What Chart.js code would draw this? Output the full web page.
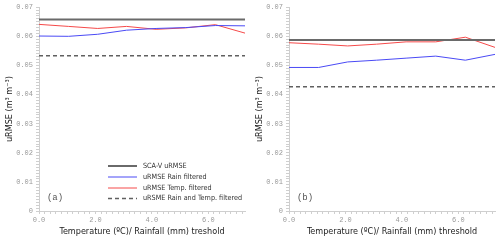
<!DOCTYPE html>
<html>
<head>
<meta charset="utf-8">
<script src="https://cdn.jsdelivr.net/npm/chart.js@4"></script>
<style>
  body { margin: 0; background: #fff; }
  #wrap { display: flex; width: 500px; height: 241px; }
  canvas { display: block; }
</style>
</head>
<body>
<div id="wrap">
  <canvas id="chartA" width="250" height="241"></canvas>
  <canvas id="chartB" width="250" height="241"></canvas>
</div>
<script>
// thresholds (x)
const thresholds = [0, 1.05, 2.08, 3.1, 4.15, 5.2, 6.25, 7.3];
const xMajorTicks = [0, 2, 4, 6];
const yMajorTicks = [0, 0.01, 0.02, 0.03, 0.04, 0.05, 0.06, 0.07];

// panel (a)
const scaA  = [0.0658, 0.0658, 0.0658, 0.0658, 0.0658, 0.0658, 0.0658, 0.0658];
const rainA = [0.0601, 0.0600, 0.0607, 0.0621, 0.0627, 0.0630, 0.0637, 0.0636];
const tempA = [0.0641, 0.0634, 0.0627, 0.0634, 0.0624, 0.0629, 0.0640, 0.0611];
const bothA = [0.0533, 0.0533, 0.0533, 0.0533, 0.0533, 0.0533, 0.0533, 0.0533];

// panel (b)
const scaB  = [0.0587, 0.0587, 0.0587, 0.0587, 0.0587, 0.0587, 0.0587, 0.0587];
const rainB = [0.0493, 0.0493, 0.0512, 0.0518, 0.0525, 0.0532, 0.0518, 0.0538];
const tempB = [0.0578, 0.0573, 0.0567, 0.0573, 0.0581, 0.0581, 0.0597, 0.0562];
const bothB = [0.0427, 0.0427, 0.0427, 0.0427, 0.0427, 0.0427, 0.0427, 0.0427];

const seriesNames = ['SCA-V uRMSE', 'uRMSE Rain filtered', 'uRMSE Temp. filtered', 'uRSME Rain and Temp. filtered'];

const SANS = "'DejaVu Sans Condensed', 'Liberation Sans Narrow', 'Liberation Sans', sans-serif";
const MONO = "'Liberation Mono', 'DejaVu Sans Mono', monospace";
const AXIS_GRAY = '#cfcfcf';

function pts(vals) {
  return vals.map((v, i) => ({ x: thresholds[i], y: v }));
}

function isMajor(v, list) {
  return list.some(m => Math.abs(m - v) < 1e-6);
}

// small legend + panel letter drawn inside the plot
const panelDeco = {
  id: 'panelDeco',
  afterDraw(chart, args, opts) {
    const ctx = chart.ctx;
    ctx.save();
    if (opts.legend) {
      const rowY = [166, 177, 188, 198.5];
      chart.data.datasets.forEach((ds, i) => {
        const y = rowY[i];
        ctx.beginPath();
        ctx.strokeStyle = ds.borderColor;
        ctx.lineWidth = ds.borderWidth;
        ctx.setLineDash(ds.borderDash || []);
        ctx.moveTo(108, y);
        ctx.lineTo(137, y);
        ctx.stroke();
        ctx.setLineDash([]);
        ctx.fillStyle = '#333';
        ctx.font = '7.2px ' + SANS;
        ctx.textAlign = 'left';
        ctx.textBaseline = 'middle';
        ctx.fillText(ds.label, 143, y);
      });
    }
    ctx.fillStyle = '#555';
    ctx.font = '9px ' + MONO;
    ctx.textAlign = 'center';
    ctx.textBaseline = 'middle';
    ctx.fillText(opts.label, chart.chartArea.left + 16, 198);
    ctx.restore();
  }
};

function makeChart(id, sca, rain, temp, both, label, xTitle, legend) {
  const styles = [
    { color: '#6a6a6a', width: 2, dash: [] },
    { color: '#4a4af5', width: 1, dash: [] },
    { color: '#f54a4a', width: 1, dash: [] },
    { color: '#606060', width: 1.5, dash: [4, 3] }
  ];
  const vals = [sca, rain, temp, both];
  return new Chart(document.getElementById(id), {
    type: 'line',
    data: {
      datasets: vals.map((v, i) => ({
        label: seriesNames[i],
        data: pts(v),
        borderColor: styles[i].color,
        borderWidth: styles[i].width,
        borderDash: styles[i].dash,
        pointRadius: 0,
        tension: 0,
        fill: false
      }))
    },
    options: {
      responsive: false,
      animation: false,
      devicePixelRatio: 1,
      layout: { padding: { left: 0, right: 5, top: 6, bottom: 0 } },
      plugins: {
        legend: { display: false },
        tooltip: { enabled: false },
        panelDeco: { label: label, legend: legend }
      },
      scales: {
        x: {
          type: 'linear',
          min: 0,
          max: 7.3,
          afterBuildTicks: s => {
            const t = [];
            for (let k = 0; k <= 36; k++) t.push({ value: k / 5 });
            s.ticks = t;
          },
          afterFit: s => { s.height = 30; },
          grid: { drawOnChartArea: false, drawTicks: true, tickLength: 3, color: AXIS_GRAY },
          border: { display: true, color: AXIS_GRAY },
          ticks: {
            autoSkip: false,
            maxRotation: 0,
            padding: 2,
            color: '#999',
            font: { family: MONO, size: 7 },
            callback: v => isMajor(v, xMajorTicks) ? v.toFixed(1) : ''
          },
          title: {
            display: true,
            text: xTitle,
            color: '#222',
            font: { family: SANS, size: 9 },
            padding: { top: 0, bottom: 4 }
          }
        },
        y: {
          min: 0,
          max: 0.07,
          afterBuildTicks: s => {
            const t = [];
            for (let k = 0; k <= 70; k++) t.push({ value: k / 1000 });
            s.ticks = t;
          },
          afterFit: s => { s.width = 39; },
          grid: { drawOnChartArea: false, drawTicks: true, tickLength: 3, color: AXIS_GRAY },
          border: { display: true, color: AXIS_GRAY },
          ticks: {
            autoSkip: false,
            padding: 3,
            color: '#999',
            font: { family: MONO, size: 7 },
            callback: v => isMajor(v, yMajorTicks) ? (v === 0 ? '0' : v.toFixed(2)) : ''
          },
          title: {
            display: true,
            text: 'uRMSE (m\u00B3 m\u207B\u00B3)',
            color: '#222',
            font: { family: SANS, size: 9 },
            padding: { top: 4, bottom: 0 }
          }
        }
      }
    },
    plugins: [panelDeco]
  });
}

makeChart('chartA', scaA, rainA, tempA, bothA, '(a)', 'Temperature (\u00BAC)/ Rainfall (mm) treshold', true);
makeChart('chartB', scaB, rainB, tempB, bothB, '(b)', 'Temperature (\u00BAC)/ Rainfall (mm) threshold', false);
</script>
</body>
</html>
